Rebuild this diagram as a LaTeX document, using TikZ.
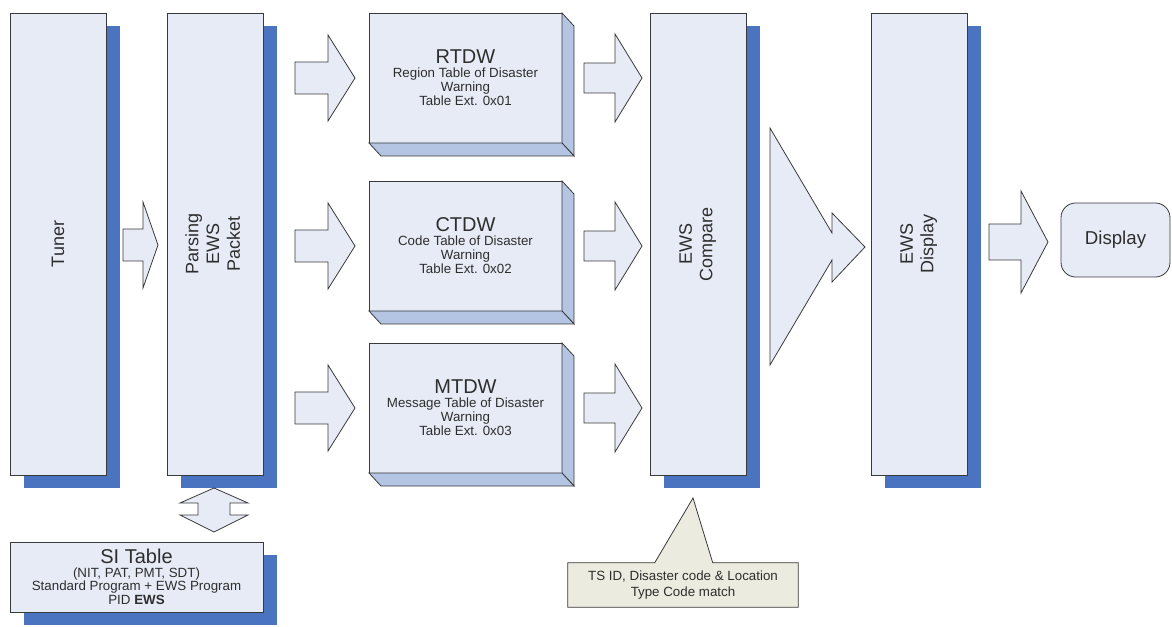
\documentclass[tikz,border=0pt]{standalone}
\usepackage{fontspec}
\setmainfont{Liberation Sans}
\usetikzlibrary{shadows,calc,backgrounds}

\definecolor{frontblue}{HTML}{E6EBF6}
\definecolor{shadowblue}{HTML}{4A74C0}
\definecolor{sideblue}{HTML}{B4C5E4}
\definecolor{edgegray}{HTML}{3A3A3A}
\definecolor{notefill}{HTML}{EBEBE0}
\definecolor{textgray}{HTML}{2E2E2E}

\begin{document}
\begin{tikzpicture}[
    x=0.75pt, y=-0.75pt,
    box/.style={draw=edgegray, fill=frontblue, line width=0.6pt, inner sep=0pt, outer sep=0pt, text=textgray},
    shadowbox/.style={box, drop shadow={shadow xshift=10.5pt, shadow yshift=-9.75pt, opacity=1, fill=shadowblue}},
    tallbox/.style={shadowbox, minimum width=72pt, minimum height=346.5pt, font=\fontsize{13.5}{15.5}\selectfont},
    tablebox/.style={box, minimum width=144.75pt, minimum height=97.5pt, align=center, font=\fontsize{10}{10.5}\selectfont},
    arrline/.style={draw=edgegray, fill=frontblue, line width=0.6pt},
    side/.style={draw=edgegray, fill=sideblue, line width=0.6pt},
    pics/fatarrow/.style args={#1/#2/#3/#4}{code={
        \path[arrline] (0,-#4) -- (#1-#2,-#4) -- (#1-#2,-#3) -- (#1,0) -- (#1-#2,#3) -- (#1-#2,#4) -- (0,#4) -- cycle;
    }},
]
\useasboundingbox (0,0) rectangle (1172,627);

% tall blocks
\node[tallbox] (tuner) at (58,244) {\rotatebox{90}{Tuner}};
\node[tallbox] (parse) at (215,244) {\rotatebox{90}{\begin{tabular}{@{}c@{}}Parsing\\EWS\\Packet\end{tabular}}};
\node[tallbox] (cmp) at (698,244) {\rotatebox{90}{\begin{tabular}{@{}c@{}}EWS\\Compare\end{tabular}}};
\node[tallbox] (ewsd) at (919,244) {\rotatebox{90}{\begin{tabular}{@{}c@{}}EWS\\Display\end{tabular}}};

\node[shadowbox, minimum width=189.75pt, minimum height=52.5pt, align=center, font=\fontsize{10}{10.2}\selectfont] (si) at (136.5,577)
    {{\fontsize{15}{16}\selectfont SI Table}\\(NIT, PAT, PMT, SDT)\\Standard Program + EWS Program\\PID \textbf{EWS}};

% tables
\node[tablebox] (rtdw) at (465.5,78) {{\fontsize{15}{17}\selectfont RTDW}\\Region Table of Disaster\\Warning\\Table Ext. 0x01};
\node[tablebox] (ctdw) at (465.5,246) {{\fontsize{15}{17}\selectfont CTDW}\\Code Table of Disaster\\Warning\\Table Ext. 0x02};
\node[tablebox] (mtdw) at (465.5,408) {{\fontsize{15}{17}\selectfont MTDW}\\Message Table of Disaster\\Warning\\Table Ext. 0x03};

\foreach \n in {rtdw,ctdw,mtdw} {
    \path[side] (\n.north east) -- ++(12,13) -- ($(\n.south east)+(12,13)$) -- (\n.south east) -- cycle;
    \path[side] (\n.south west) -- (\n.south east) -- ++(12,13) -- ($(\n.south west)+(12,13)$) -- cycle;
    \pic at ($(\n.west)+(-74,0)$) {fatarrow=60/27/43/16};
    \pic at ($(\n.east)+(22,0)$) {fatarrow=58/27/44/15};
}

\node[box, rounded corners=11pt, minimum width=81.75pt, minimum height=55.5pt, font=\fontsize{14}{16}\selectfont] (disp) at (1115.5,240) {Display};

% block arrows
\pic at ($(tuner.east)+(17,1)$) {fatarrow=35/15/43/16};
\pic at ($(ewsd.east)+(22,-2)$) {fatarrow=59/27/51/18};
\path[arrline] ($(cmp.east)+(24,-116)$) -- ++(62,105) -- ++(0,-20) -- ++(33,34) -- ++(-33,35) -- ++(0,-22) -- ++(-62,105) -- cycle;
\path[arrline] ($(parse.south)+(-1,13)$) -- ++(34,15) -- ++(-18,0) -- ++(0,12) -- ++(18,0) -- ++(-34,17)
    -- ++(-34,-17) -- ++(18,0) -- ++(0,-12) -- ++(-18,0) -- cycle;

% note
\coordinate (tip) at ($(cmp.south)+(-5,23)$);
\node[minimum width=172.5pt, minimum height=33pt, align=center, inner sep=0pt, text=textgray, font=\fontsize{10}{12}\selectfont] (note) at (683,585)
    {TS ID, Disaster code \& Location\\Type Code match};
\begin{scope}[on background layer]
\path[draw=edgegray, fill=notefill, line width=0.6pt] (note.north west) -- ++(87,0) -- (tip) -- ($(note.north west)+(145,0)$)
    -- (note.north east) -- (note.south east) -- (note.south west) -- cycle;
\end{scope}

\end{tikzpicture}
\end{document}
